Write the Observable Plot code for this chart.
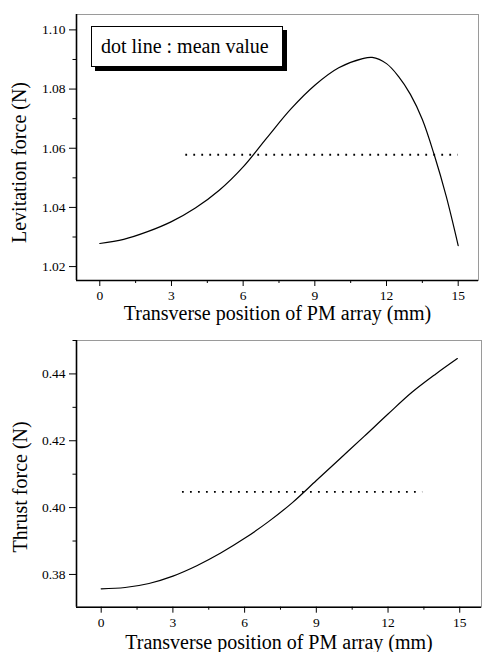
<!DOCTYPE html>
<html>
<head>
<meta charset="utf-8">
<script src="https://cdn.jsdelivr.net/npm/d3@7"></script>
<script src="https://cdn.jsdelivr.net/npm/@observablehq/plot@0.6"></script>
<style>
  html, body { margin: 0; padding: 0; background: #fff; }
  #wrap { position: relative; width: 482px; height: 652px; overflow: hidden; }
  #wrap svg { display: block; font-family: "Liberation Serif", serif; }
  #wrap svg text { font-family: "Liberation Serif", serif; }
  #legend {
    position: absolute; left: 91px; top: 26px; width: 181px; height: 39px;
    border: 1px solid #000; box-shadow: 4px 4px 0 #000; background: #fff;
    font-family: "Liberation Serif", serif; font-size: 20px; line-height: 39px;
    padding-left: 9px; box-sizing: content-box; white-space: nowrap; color: #000;
  }
</style>
</head>
<body>
<div id="wrap"><div id="legend">dot line : mean value</div></div>
<script>
// ---- data ----
const levX = [0, 1, 2, 3, 4, 5, 6, 7, 8, 9, 10, 11, 11.4, 12, 12.5, 13, 13.5, 14, 14.5, 15];
const levY = [1.0278, 1.0292, 1.0318, 1.0352, 1.0398, 1.0458, 1.0537, 1.0636, 1.0733, 1.0813, 1.0872, 1.0903, 1.0907, 1.0886, 1.0843, 1.0782, 1.0697, 1.0577, 1.0437, 1.0271];
const levMean = 1.0578, levMeanRange = [3.6, 15.0];

const thrX = [0, 1, 2, 3, 4, 5, 6, 7, 8, 9, 10, 11, 12, 13, 14, 14.9];
const thrY = [0.3757, 0.3761, 0.3773, 0.3795, 0.3826, 0.3864, 0.3908, 0.3958, 0.4015, 0.4081, 0.4147, 0.4213, 0.4280, 0.4345, 0.4400, 0.4446];
const thrMean = 0.4047, thrMeanRange = [3.4, 13.45];

const xTicks = [0, 3, 6, 9, 12, 15];
const xMinor = [1.5, 4.5, 7.5, 10.5, 13.5];
const levTicks = [1.02, 1.04, 1.06, 1.08, 1.10];
const levMinor = [1.03, 1.05, 1.07, 1.09];
const thrTicks = [0.38, 0.40, 0.42, 0.44];
const thrMinor = [0.37, 0.39, 0.41, 0.43, 0.45];

const xLabel = "Transverse position of PM array (mm)";
const levLabel = "Levitation force (N)";
const thrLabel = "Thrust force (N)";

const FONT = "Liberation Serif";

function panel({xs, ys, mean, meanRange, xDomain, yDomain, yTicks, yMinor, yLabel, margins, ylDx, ylDy, xlDy}) {
  const data = xs.map((x, i) => ({x, y: ys[i]}));
  return Plot.plot({
    width: 482, height: 326,
    marginTop: margins[0], marginRight: margins[1], marginBottom: margins[2], marginLeft: margins[3],
    style: {fontFamily: FONT, fontSize: "13.5px", color: "#000", background: "#fff"},
    x: {domain: xDomain, axis: null},
    y: {domain: yDomain, axis: null},
    marks: [
      Plot.frame({stroke: "#9a9a9a", strokeWidth: 1}),
      Plot.ruleX([xDomain[0]], {stroke: "#000", strokeWidth: 1.6}),
      Plot.ruleY([yDomain[0]], {stroke: "#000", strokeWidth: 1.6}),
      Plot.axisX({ticks: xTicks, tickSize: 6, tickPadding: 4, tickFormat: d => String(d), label: null, fontSize: 13.5, fontFamily: FONT}),
      Plot.axisX({ticks: xMinor, tickSize: 3, tickFormat: () => "", label: null}),
      Plot.axisY({ticks: yTicks, tickSize: 7, tickPadding: 4, tickFormat: d => d.toFixed(2), label: null, fontSize: 13.5, fontFamily: FONT}),
      Plot.axisY({ticks: yMinor.filter(v => v >= yDomain[0] && v <= yDomain[1]), tickSize: 3.5, tickFormat: () => "", label: null}),
      Plot.ruleY([mean], {x1: meanRange[0], x2: meanRange[1], stroke: "#000", strokeWidth: 1.8, strokeDasharray: "1.8,6.2"}),
      Plot.line(data, {x: "x", y: "y", curve: "catmull-rom", stroke: "#000", strokeWidth: 1.2}),
      Plot.text([xLabel], {text: d => d, frameAnchor: "bottom", lineAnchor: "middle", textAnchor: "middle", dy: xlDy, fontSize: 20, fontFamily: FONT, fill: "#000"}),
      Plot.text([yLabel], {text: d => d, frameAnchor: "left", lineAnchor: "middle", textAnchor: "middle", rotate: -90, dx: ylDx, dy: ylDy, fontSize: 20, fontFamily: FONT, fill: "#000"})
    ]
  });
}

const topPanel = panel({
  xs: levX, ys: levY, mean: levMean, meanRange: levMeanRange,
  xDomain: [-0.975, 15.85], yDomain: [1.0153, 1.1052],
  yTicks: levTicks, yMinor: levMinor, yLabel: levLabel,
  margins: [14, 4, 46, 76], ylDx: -57, ylDy: 15, xlDy: 33
});
const bottomPanel = panel({
  xs: thrX, ys: thrY, mean: thrMean, meanRange: thrMeanRange,
  xDomain: [-1.033, 15.91], yDomain: [0.3702, 0.4500],
  yTicks: thrTicks, yMinor: thrMinor, yLabel: thrLabel,
  margins: [14, 1, 45.3, 76], ylDx: -56, ylDy: 13, xlDy: 35
});
const wrap = document.getElementById("wrap");
wrap.insertBefore(bottomPanel, wrap.firstChild);
wrap.insertBefore(topPanel, wrap.firstChild);
</script>
</body>
</html>
